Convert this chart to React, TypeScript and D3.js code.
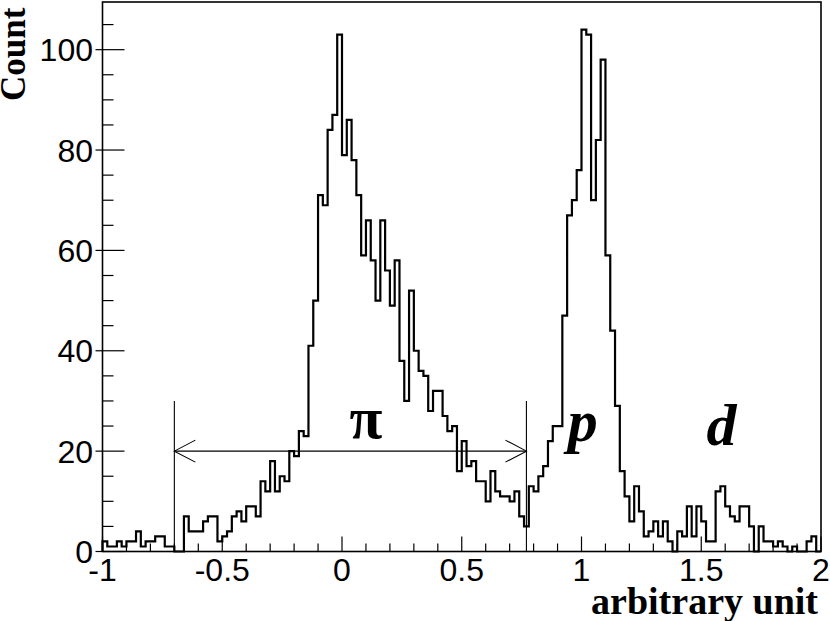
import React, { useEffect, useRef } from 'react';
import * as d3 from 'd3';

// counts per bin, 150 bins of width 0.02 from -1 to 2
const counts = [
  2, 1, 1, 2, 1, 2, 2, 4, 1, 2,
  2, 3, 3, 1, 1, 0, 0, 7, 4, 4,
  4, 6, 7, 7, 2, 3, 4, 7, 8, 6,
  9, 9, 7, 14, 12, 18, 12, 15, 14, 20,
  19, 24, 23, 41, 50, 71, 69, 84, 87, 103,
  79, 86, 78, 71, 59, 66, 58, 50, 66, 56,
  49, 58, 38, 30, 52, 40, 36, 35, 28, 32,
  32, 27, 24, 25, 16, 22, 17, 18, 14, 14,
  10, 16, 12, 11, 11, 10, 12, 7, 5, 13,
  12, 15, 17, 22, 25, 25, 47, 67, 70, 76,
  104, 103, 70, 82, 98, 59, 44, 29, 16, 11,
  6, 13, 8, 3, 4, 6, 3, 6, 2, 0,
  4, 3, 9, 3, 9, 6, 2, 2, 12, 13,
  9, 7, 6, 9, 9, 5, 0, 5, 2, 2,
  1, 2, 1, 0, 1, 0, 0, 2, 3, 0,
];
const xMin = -1;
const binWidth = 0.02;

const xTicks = [-1, -0.5, 0, 0.5, 1, 1.5, 2];
const xTickLabels = ['-1', '-0.5', '0', '0.5', '1', '1.5', '2'];
const yTicks = [0, 20, 40, 60, 80, 100];
const yTickLabels = ['0', '20', '40', '60', '80', '100'];

const pionRange = [-0.7, 0.77];
const particles = ['π', 'p', 'd'];
const particleX = [0.1, 1.005, 1.585];
const particleY = [22.6, 22, 21.2];

function Histogram() {
  const svgRef = useRef(null);

  useEffect(() => {
    const svg = d3.select(svgRef.current);
    svg.selectAll('*').remove();

    const width = 830,
      height = 621;
    const margin = { top: 2, right: 9, bottom: 69.5, left: 102.5 };

    const x = d3.scaleLinear().domain([-1, 2]).range([margin.left, width - margin.right]);
    const y = d3.scaleLinear().domain([0, 109.5]).range([height - margin.bottom, margin.top]);

    // histogram outline
    const pts = [[x(xMin), y(0)]];
    counts.forEach((c, i) => {
      pts.push([x(xMin + i * binWidth), y(c)]);
      pts.push([x(xMin + (i + 1) * binWidth), y(c)]);
    });
    pts.push([x(xMin + counts.length * binWidth), y(0)]);

    svg
      .append('path')
      .attr('d', d3.line()(pts))
      .attr('fill', 'none')
      .attr('stroke', '#000')
      .attr('stroke-width', 2.2)
      .attr('stroke-linejoin', 'miter');

    // x ticks
    const xMinor = d3.range(-10, 21).map((d) => d / 10);
    svg
      .append('g')
      .selectAll('line')
      .data(xMinor)
      .enter()
      .append('line')
      .attr('x1', (d) => x(d))
      .attr('x2', (d) => x(d))
      .attr('y1', y(0))
      .attr('y2', (d) => y(0) - (Math.abs(d * 2 - Math.round(d * 2)) < 1e-6 ? 15 : 8))
      .attr('stroke', '#000')
      .attr('stroke-width', 1.2);

    svg
      .append('g')
      .selectAll('text')
      .data(xTicks)
      .enter()
      .append('text')
      .attr('x', (d) => x(d))
      .attr('y', 581)
      .attr('text-anchor', 'middle')
      .attr('font-family', 'Liberation Sans, Arial, sans-serif')
      .attr('font-size', 32)
      .text((d, i) => xTickLabels[i]);

    // y ticks
    const yMinor = d3.range(0, 110, 5);
    svg
      .append('g')
      .selectAll('line')
      .data(yMinor)
      .enter()
      .append('line')
      .attr('x1', (d) => (d % 20 === 0 ? x(-1) - 7 : x(-1)))
      .attr('x2', (d) => x(-1) + (d % 20 === 0 ? 22 : 11))
      .attr('y1', (d) => y(d))
      .attr('y2', (d) => y(d))
      .attr('stroke', '#000')
      .attr('stroke-width', 1.2);

    svg
      .append('g')
      .selectAll('text')
      .data(yTicks)
      .enter()
      .append('text')
      .attr('x', 93)
      .attr('y', (d) => y(d) + 11.5)
      .attr('text-anchor', 'end')
      .attr('font-family', 'Liberation Sans, Arial, sans-serif')
      .attr('font-size', 32)
      .text((d, i) => yTickLabels[i]);

    // frame
    svg
      .append('rect')
      .attr('x', x(-1))
      .attr('y', y(109.5))
      .attr('width', x(2) - x(-1))
      .attr('height', y(0) - y(109.5))
      .attr('fill', 'none')
      .attr('stroke', '#000')
      .attr('stroke-width', 1.6);

    // pion range arrow
    const g = svg.append('g').attr('stroke', '#000').attr('stroke-width', 1.1).attr('fill', 'none');
    pionRange.forEach((v) => {
      g.append('line').attr('x1', x(v)).attr('x2', x(v)).attr('y1', y(30)).attr('y2', y(0));
    });
    const xl = x(pionRange[0]),
      xr = x(pionRange[1]),
      ya = y(20);
    g.append('line').attr('x1', xl).attr('x2', xr).attr('y1', ya).attr('y2', ya);
    g.append('path').attr('d', `M${xl + 21},${ya - 11}L${xl},${ya}L${xl + 21},${ya + 11}`);
    g.append('path').attr('d', `M${xr - 21},${ya - 11}L${xr},${ya}L${xr - 21},${ya + 11}`);

    // particle labels
    particles.forEach((p, i) => {
      svg
        .append('text')
        .attr('x', x(particleX[i]))
        .attr('y', y(particleY[i]))
        .attr('text-anchor', 'middle')
        .attr('font-family', 'Liberation Serif, Times New Roman, serif')
        .attr('font-weight', 'bold')
        .attr('font-style', i === 0 ? 'normal' : 'italic')
        .attr('font-size', 60)
        .text(p);
    });

    // axis titles
    svg
      .append('text')
      .attr('x', 818)
      .attr('y', 614)
      .attr('text-anchor', 'end')
      .attr('font-family', 'Liberation Serif, Times New Roman, serif')
      .attr('font-weight', 'bold')
      .attr('font-size', 38)
      .text('arbitrary unit');

    svg
      .append('text')
      .attr('transform', 'translate(25,101) rotate(-90)')
      .attr('text-anchor', 'start')
      .attr('font-family', 'Liberation Serif, Times New Roman, serif')
      .attr('font-weight', 'bold')
      .attr('font-size', 35)
      .text('Count');
  }, []);

  return <svg ref={svgRef} width="830" height="621" style={{ position: 'absolute', left: 0, top: 0, background: '#fff' }} />;
}

export default function App() {
  return <Histogram />;
}
